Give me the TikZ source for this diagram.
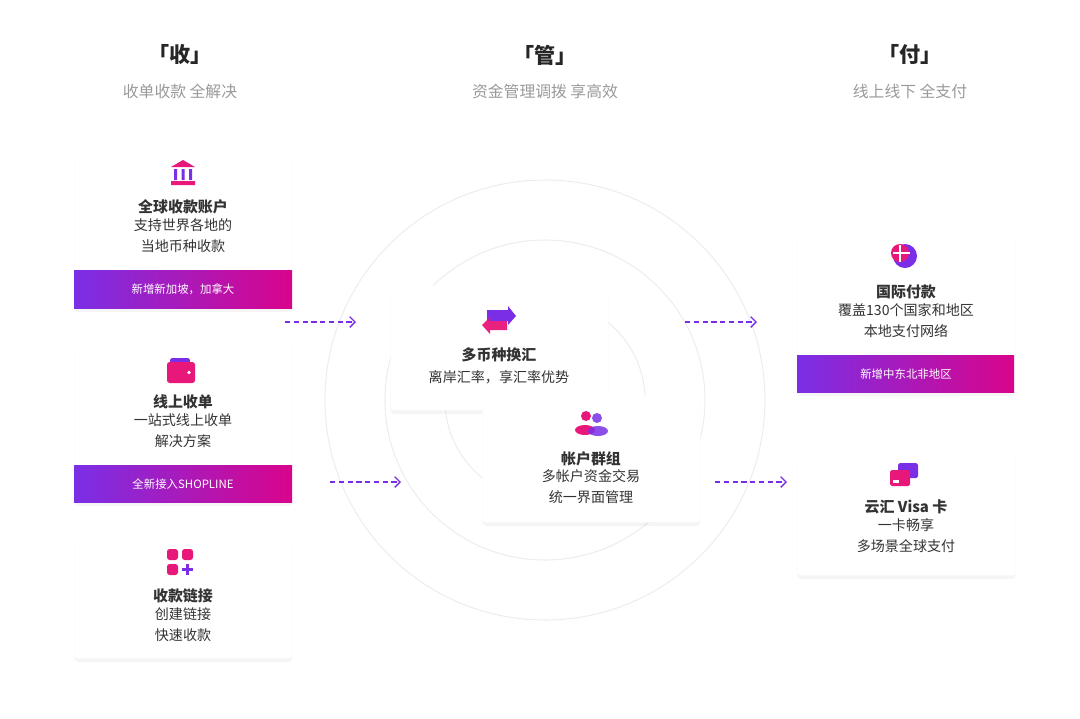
\documentclass[tikz,border=0pt]{standalone}
\usepackage{fontspec}
\setmainfont{Noto Sans CJK SC}
\usetikzlibrary{shadows,calc,arrows.meta}
\definecolor{violet}{HTML}{7A2FE6}
\definecolor{magenta}{HTML}{D9048C}
\definecolor{pink}{HTML}{E8177A}
\definecolor{txt}{HTML}{333333}
\definecolor{sub}{HTML}{9A9A9A}
\tikzset{
  card/.style={draw=none,fill=white,rounded corners=2pt,anchor=north west,
    drop shadow={opacity=0.08,shadow xshift=0pt,shadow yshift=-2pt},
    minimum width=4.36cm},
  band/.style={left color=violet,right color=magenta},
  title/.style={font=\bfseries\fontsize{8.5}{10}\selectfont,text=txt},
  body/.style={font=\fontsize{8}{12}\selectfont,text=txt,align=center},
  bandtxt/.style={font=\fontsize{6.5}{8}\selectfont,text=white},
  head/.style={font=\bfseries\fontsize{12}{14}\selectfont,text=black!85},
  subhead/.style={font=\fontsize{9}{11}\selectfont,text=sub},
  ring/.style={draw=black!7,line width=0.6pt},
  flow/.style={draw=violet,densely dashed,line width=0.8pt,-{Straight Barb[length=3pt]}}
}
\begin{document}
\begin{tikzpicture}[x=0.02cm,y=-0.02cm]
\useasboundingbox (0,0) rectangle (1080,718);

% rings
\draw[ring] (545,400) circle (220);
\draw[ring] (545,400) circle (160);
\draw[ring] (545,400) circle (100);

% headers
\node[head] (h1) at (180,55) {「收」};
\node[subhead] (s1) at (180,91) {收单收款\ 全解决};
\node[head] (h2) at (545,55) {「管」};
\node[subhead] (s2) at (545,91) {资金管理调拨\ 享高效};
\node[head] (h3) at (910,55) {「付」};
\node[subhead] (s3) at (910,91) {线上线下\ 全支付};

% left column
\node[card,minimum height=3.16cm] (account) at (74,150) {};
\shade[band] (74,270) rectangle (292,308);
\node[bandtxt] at (183,289) {新增新加坡，加拿大};
\fill[pink] (171,167) -- (183,160) -- (195,167) -- cycle
            (171,181) rectangle (195,185);
\fill[violet] (174,169) rectangle (177,180) (181.5,169) rectangle (184.5,180) (189,169) rectangle (192,180);
\node[title] at (183,207) {全球收款账户};
\node[body] at (183,236) {支持世界各地的\\当地币种收款};

\node[card,minimum height=3.24cm] (online) at (74,340) {};
\shade[band] (74,465) rectangle (292,502);
\node[bandtxt] at (183,484) {全新接入SHOPLINE};
\fill[violet,rounded corners=1pt] (170,358) rectangle (190,370);
\fill[pink,rounded corners=1.5pt] (167,362) rectangle (195,383);
\fill[white] (189,372.5) circle (1.8);
\node[title] at (183,402) {线上收单};
\node[body] at (183,431) {一站式线上收单\\解决方案};

\node[card,minimum height=2.46cm] (link) at (74,535) {};
\fill[pink,rounded corners=1.5pt] (167,549) rectangle (178,560) (182,549) rectangle (193,560) (167,564) rectangle (178,575);
\draw[violet,line width=1.3pt] (182,569.5) -- (193,569.5) (187.5,564) -- (187.5,575);
\node[title] at (183,596) {收款链接};
\node[body] at (183,625) {创建链接\\快速收款};

% middle column
\node[card,minimum height=2.5cm] (fx) at (390,285) {};
\fill[violet] (487,310) -- (508,310) -- (508,306) -- (516,316) -- (508,325) -- (508,321) -- (487,321) -- cycle;
\fill[pink,opacity=0.95] (507,321) -- (490,321) -- (490,317) -- (482,325) -- (490,334) -- (490,330) -- (507,330) -- cycle;
\node[title] at (499,355) {多币种换汇};
\node[body] at (499,377) {离岸汇率，享汇率优势};

\node[card,minimum height=2.54cm] (group) at (482,395) {};
\fill[pink] (586,416) circle (5) (585,430) ellipse (10 and 5);
\fill[violet,opacity=0.85] (597,418) circle (5) (598,431) ellipse (10 and 5);
\node[title] at (591,459) {帐户群组};
\node[body] at (591,487) {多帐户资金交易\\统一界面管理};

% right column
\node[card,minimum height=3.24cm] (intl) at (797,230) {};
\shade[band] (797,355) rectangle (1014,392);
\node[bandtxt] at (906,374) {新增中东北非地区};
\fill[violet] (905,256) circle (12);
\fill[pink] (900,253) circle (9);
\draw[white,line width=0.6pt] (893,253) -- (910,253) (900,245) -- (900,262);
\node[title] at (906,292) {国际付款};
\node[body] at (906,321) {覆盖130个国家和地区\\本地支付网络};

\node[card,minimum height=2.5cm] (visa) at (797,450) {};
\fill[violet,rounded corners=1pt] (898,463) rectangle (918,478);
\fill[pink,rounded corners=1pt] (890,470) rectangle (910,486);
\fill[white] (893,480) rectangle (899,483);
\node[title] at (906,507) {云汇\ Visa\ 卡};
\node[body] at (906,536) {一卡畅享\\多场景全球支付};

% connectors
\coordinate (a1) at (285,322); \coordinate (b1) at (356,322);
\coordinate (a2) at (330,482); \coordinate (b2) at (401,482);
\coordinate (a3) at (685,322); \coordinate (b3) at (757,322);
\coordinate (a4) at (715,482); \coordinate (b4) at (787,482);
\draw[flow] (a1) -- (b1);
\draw[flow] (a2) -- (b2);
\draw[flow] (a3) -- (b3);
\draw[flow] (a4) -- (b4);
\end{tikzpicture}
\end{document}
